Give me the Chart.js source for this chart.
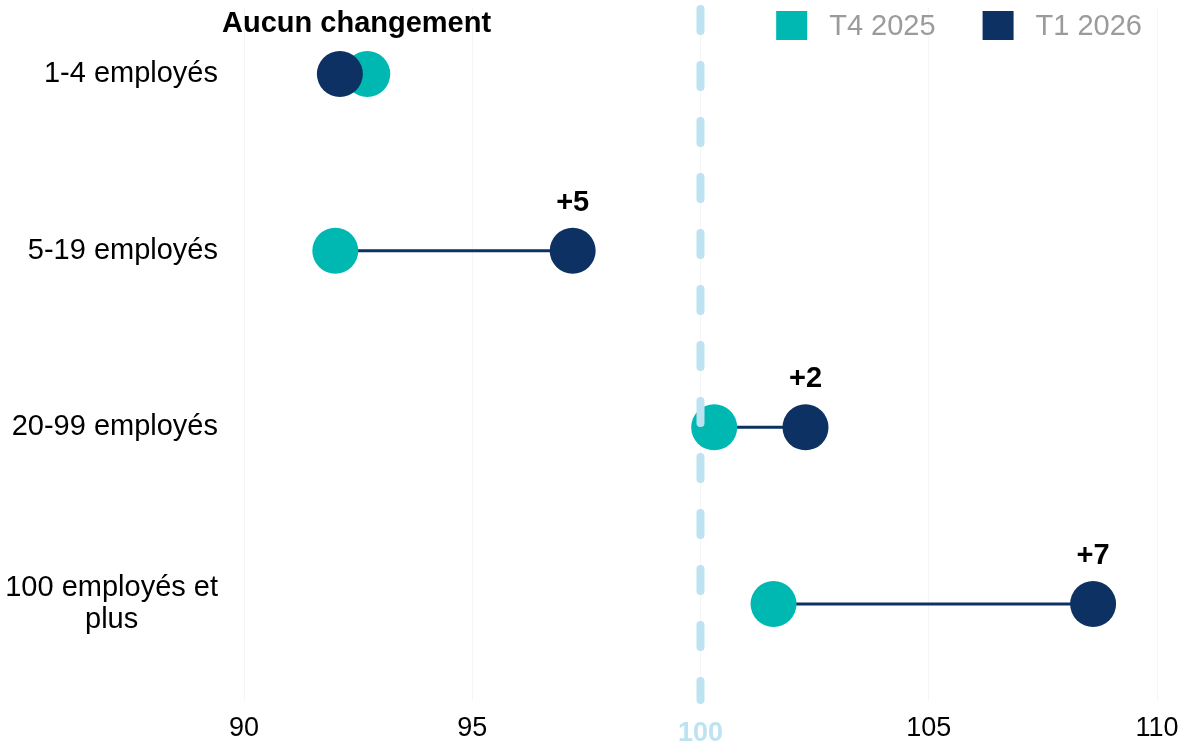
<!DOCTYPE html>
<html><head><meta charset="utf-8">
<script src="https://cdn.jsdelivr.net/npm/chart.js@4"></script>
<style>html,body{margin:0;padding:0;background:#fff}canvas{display:block}</style>
</head><body>
<canvas id="c" width="1184" height="744"></canvas>
<script>
const categories = [['1-4 employés'], ['5-19 employés'], ['20-99 employés'], ['100 employés et', 'plus']];
const seriesNames = ['T4 2025', 'T1 2026'];
const t4 = [92.7, 92.0, 100.3, 101.6];
const t1 = [92.1, 97.2, 102.3, 108.6];
const changeLabels = ['Aucun changement', '+5', '+2', '+7'];
const xTicks = [90, 95, 100, 105, 110];
const refValue = 100;

const TEAL = '#00B8B2';
const NAVY = '#0E3163';
const REF = '#BDE3F1';
const FONT = '"Liberation Sans", Arial, sans-serif';

const connectors = categories.map((c, i) => ({
  type: 'scatter', showLine: true,
  data: [{x: t4[i], y: i}, {x: t1[i], y: i}],
  borderColor: NAVY, borderWidth: 3, pointRadius: 0, order: 2
}));

const overlay = {
  id: 'overlay',
  afterDatasetsDraw(chart) {
    const ctx = chart.ctx, xs = chart.scales.x, ys = chart.scales.y, ca = chart.chartArea;
    ctx.save();
    // reference dashed line
    const rx = xs.getPixelForValue(refValue);
    ctx.strokeStyle = REF; ctx.lineWidth = 8; ctx.lineCap = 'round';
    ctx.setLineDash([22, 34]);
    ctx.beginPath(); ctx.moveTo(rx, ca.top + 1); ctx.lineTo(rx, ca.bottom); ctx.stroke();
    ctx.setLineDash([]);
    // reference tick label
    ctx.fillStyle = REF; ctx.font = 'bold 27px ' + FONT;
    ctx.textAlign = 'center'; ctx.textBaseline = 'middle';
    ctx.fillText(String(refValue), rx, xs.top + 34);
    // change labels
    ctx.fillStyle = '#000'; ctx.font = 'bold 29px ' + FONT;
    changeLabels.forEach((lab, i) => {
      const y = ys.getPixelForValue(i) - (i === 0 ? 50 : 48);
      const x = i === 0 ? (xs.getPixelForValue(t4[i]) + xs.getPixelForValue(t1[i])) / 2 + 3 : xs.getPixelForValue(t1[i]);
      ctx.fillText(lab, x, y);
    });
    // category labels
    ctx.font = '29px ' + FONT; ctx.fillStyle = '#000';
    const rightEdge = ca.left - 26, lh = 32;
    categories.forEach((lines, i) => {
      const w = Math.max(...lines.map(l => ctx.measureText(l).width));
      const cx = rightEdge - w / 2;
      const cy = ys.getPixelForValue(i);
      lines.forEach((l, k) => {
        ctx.fillText(l, cx, cy + (k - (lines.length - 1) / 2) * lh);
      });
    });
    // legend
    ctx.font = '29px ' + FONT; ctx.textAlign = 'left';
    const colors = [TEAL, NAVY];
    const box = 31, gapBT = 22, gapItems = 47;
    const widths = seriesNames.map(n => ctx.measureText(n).width);
    let total = 0;
    widths.forEach((w, i) => { total += box + gapBT + w + (i < widths.length - 1 ? gapItems : 0); });
    let x = ca.right - 15 - total;
    seriesNames.forEach((n, i) => {
      ctx.fillStyle = colors[i]; ctx.fillRect(x, 11, box, 29);
      ctx.fillStyle = '#9B9B9B'; ctx.fillText(n, x + box + gapBT, 27);
      x += box + gapBT + widths[i] + gapItems;
    });
    ctx.restore();
  }
};

new Chart(document.getElementById('c'), {
  type: 'scatter',
  data: {
    datasets: [
      {label: seriesNames[1], data: t1.map((v, i) => ({x: v, y: i})), backgroundColor: NAVY, borderWidth: 0, pointRadius: 23, pointHoverRadius: 23, order: 0},
      {label: seriesNames[0], data: t4.map((v, i) => ({x: v, y: i})), backgroundColor: TEAL, borderWidth: 0, pointRadius: 23, pointHoverRadius: 23, order: 1},
      ...connectors
    ]
  },
  options: {
    responsive: false, animation: false, devicePixelRatio: 1,
    layout: {autoPadding: false, padding: {left: 244, right: 27, top: 8, bottom: 0}},
    plugins: {legend: {display: false}, tooltip: {enabled: false}},
    scales: {
      x: {
        type: 'linear', min: xTicks[0], max: xTicks[xTicks.length - 1],
        afterBuildTicks: (axis) => { axis.ticks = xTicks.map(v => ({value: v})); },
        afterFit: (axis) => { axis.paddingLeft = 0; axis.paddingRight = 0; axis.height = 44; },
        ticks: {
          font: {family: FONT, size: 27}, color: '#000', padding: 12, maxRotation: 0,
          callback: (v) => v === refValue ? '' : String(v)
        },
        grid: {color: '#F5F5F5', drawTicks: false},
        border: {display: false}
      },
      y: {type: 'linear', reverse: true, min: -0.3735, max: 3.543, display: false}
    }
  },
  plugins: [overlay]
});
</script>
</body></html>
